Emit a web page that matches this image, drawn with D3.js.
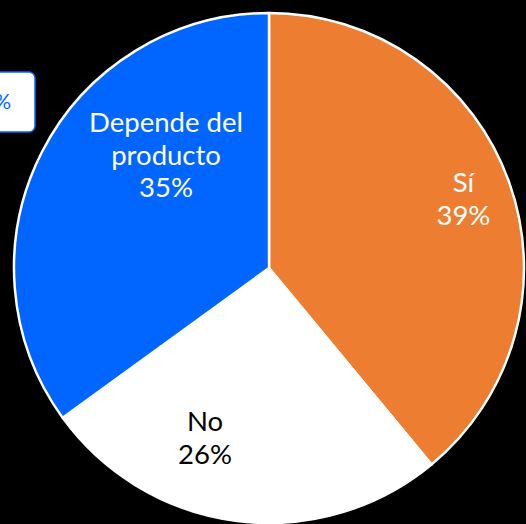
<!DOCTYPE html>
<html><head><meta charset="utf-8">
<script src="https://cdn.jsdelivr.net/npm/d3@7"></script>
<style>
html,body{margin:0;padding:0;background:#000;}
svg{display:block;}
text{font-family:Lato,"Noto Sans",sans-serif;}
</style></head>
<body>
<svg id="chart" width="526" height="524"></svg>
<script>
const categories = ["Sí", "No", "Depende del producto"];
const values = [39, 26, 35];
const labelLines = [["Sí", "39%"], ["No", "26%"], ["Depende del", "producto", "35%"]];
const colors = ["#ED7D31", "#FFFFFF", "#0066FF"];
const textColors = ["#FFFFFF", "#000000", "#FFFFFF"];
// label placement (angle in degrees clockwise from top, radius as fraction of pie radius)
const labelLayout = [{a: 70.3, r: 0.81}, {a: 200.7, r: 0.71}, {a: 317.7, r: 0.60}];

const W = 526, H = 524;
const cx = 269, cy = 268, R = 255;
const svg = d3.select("#chart");
svg.append("rect").attr("width", W).attr("height", H).attr("fill", "#000");

const pie = d3.pie().sort(null).value(d => d)(values);
const arc = d3.arc().innerRadius(0).outerRadius(R);
const g = svg.append("g").attr("transform", `translate(${cx},${cy})`);
g.selectAll("path").data(pie).join("path")
  .attr("d", arc)
  .attr("fill", (d, i) => colors[i])
  .attr("stroke", "#fff")
  .attr("stroke-width", 2.5)
  .attr("stroke-linejoin", "round");

const fs = 27.5, lh = 32.5;
pie.forEach((d, i) => {
  const L = labelLayout[i];
  const ang = L.a * Math.PI / 180;
  const x = Math.sin(ang) * R * L.r;
  const y = -Math.cos(ang) * R * L.r;
  const lines = labelLines[i];
  const t = g.append("text")
    .attr("text-anchor", "middle")
    .attr("font-size", fs)
    .attr("fill", textColors[i]);
  const firstBase = y - (lines.length - 1) * lh / 2 + fs * 0.36;
  lines.forEach((ln, j) => {
    t.append("tspan").attr("x", x).attr("y", firstBase + j * lh).text(ln);
  });
});

// partially visible tooltip at left
const tip = svg.append("g");
tip.append("rect")
  .attr("x", -120).attr("y", 72).attr("width", 155).attr("height", 60)
  .attr("rx", 6).attr("ry", 6)
  .attr("fill", "#fff").attr("stroke", "#0066FF").attr("stroke-width", 1.5);
tip.append("text")
  .attr("x", 11).attr("y", 109)
  .attr("text-anchor", "end")
  .attr("font-size", 21)
  .attr("fill", "#0066FF")
  .text("Sí: 39%");
</script>
</body></html>
